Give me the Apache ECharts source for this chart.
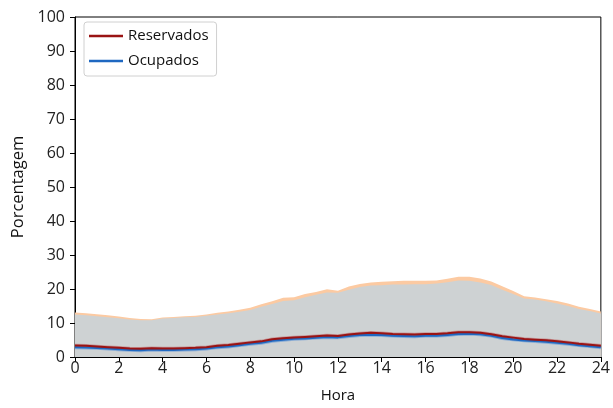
<!DOCTYPE html>
<html>
<head>
<meta charset="utf-8">
<script src="https://cdn.jsdelivr.net/npm/echarts@6/dist/echarts.min.js"></script>
<style>
html,body{margin:0;padding:0;background:#fff;}
#c{width:613px;height:408px;}
</style>
</head>
<body>
<div id="c"></div>
<script>
const hours = [0,0.5,1,1.5,2,2.5,3,3.5,4,4.5,5,5.5,6,6.5,7,7.5,8,8.5,9,9.5,10,10.5,11,11.5,12,12.5,13,13.5,14,14.5,15,15.5,16,16.5,17,17.5,18,18.5,19,19.5,20,20.5,21,21.5,22,22.5,23,23.5,24];
const grayTop = [12.5,12.3,12.0,11.7,11.4,11.0,10.8,10.8,11.3,11.5,11.7,11.8,12.1,12.5,12.9,13.3,13.8,14.8,15.6,16.5,16.7,17.6,18.3,19.0,18.9,19.8,20.6,21.0,21.1,21.3,21.3,21.4,21.4,21.6,22.0,22.5,22.4,21.9,21.2,19.8,18.5,17.2,16.9,16.4,15.7,15.0,14.1,13.5,12.8];
const peachTop = [13.1,12.9,12.6,12.3,11.9,11.5,11.2,11.1,11.6,11.8,12.0,12.1,12.5,13.0,13.4,13.9,14.5,15.5,16.4,17.4,17.6,18.5,19.1,19.9,19.5,20.7,21.5,21.9,22.1,22.3,22.4,22.4,22.4,22.5,23.0,23.6,23.6,23.1,22.2,20.8,19.4,17.9,17.5,17.0,16.5,15.7,14.8,14.1,13.4];
const reservados = [3.4,3.3,3.1,2.9,2.7,2.5,2.4,2.6,2.5,2.5,2.6,2.7,2.9,3.3,3.5,3.9,4.3,4.6,5.2,5.5,5.7,5.9,6.1,6.3,6.2,6.6,6.9,7.1,7.0,6.8,6.7,6.6,6.8,6.8,7.0,7.3,7.3,7.1,6.7,6.1,5.7,5.3,5.1,4.9,4.6,4.3,3.9,3.6,3.3];
const ocupados = [2.9,2.8,2.7,2.5,2.3,2.1,2.0,2.2,2.1,2.1,2.2,2.3,2.5,2.9,3.1,3.5,3.9,4.2,4.8,5.1,5.4,5.5,5.7,5.9,5.8,6.2,6.5,6.6,6.5,6.3,6.2,6.1,6.3,6.3,6.5,6.8,6.9,6.7,6.3,5.6,5.2,4.9,4.7,4.5,4.2,3.9,3.5,3.2,2.9];
const xTicks = {min:0, max:24, interval:2};
const yTicks = {min:0, max:100, interval:10};

const pair = (ys) => hours.map((h,i)=>[h, ys[i]]);
const FONT = 'Open Sans';
const RED = '#9a1414';
const BLUE = '#1f68c1';

const chart = echarts.init(document.getElementById('c'), null, {renderer:'canvas'});
chart.setOption({
  animation:false,
  backgroundColor:'#fff',
  textStyle:{fontFamily:FONT},
  grid:{left:75, right:9, top:17, bottom:49, show:true, borderColor:'#000', borderWidth:1},
  legend:{
    data:['Reservados','Ocupados'],
    orient:'vertical', left:84, top:22,
    backgroundColor:'#fff', borderColor:'#d0d0d0', borderWidth:1, borderRadius:3,
    padding:[5,8,6,5], itemGap:7,
    itemWidth:34, itemHeight:2.5, icon:'rect',
    textStyle:{fontFamily:FONT, fontSize:15, color:'#111', lineHeight:18}
  },
  xAxis:{
    type:'value', min:xTicks.min, max:xTicks.max, interval:xTicks.interval,
    name:'Hora', nameLocation:'middle', nameGap:31,
    nameTextStyle:{fontFamily:FONT, fontSize:15, color:'#111'},
    axisLine:{show:true, onZero:false, lineStyle:{color:'#000', width:1}},
    axisTick:{show:true, length:5, lineStyle:{color:'#000'}},
    axisLabel:{fontFamily:FONT, fontSize:16, color:'#222', margin:3},
    splitLine:{show:false}
  },
  yAxis:{
    type:'value', min:yTicks.min, max:yTicks.max, interval:yTicks.interval,
    name:'Porcentagem', nameLocation:'middle', nameGap:46,
    nameTextStyle:{fontFamily:FONT, fontSize:16.5, color:'#111'},
    axisLine:{show:true, lineStyle:{color:'#000', width:1}},
    axisTick:{show:true, length:5, lineStyle:{color:'#000'}},
    axisLabel:{fontFamily:FONT, fontSize:16, color:'#222', margin:10},
    splitLine:{show:false}
  },
  series:[
    {name:'peach', type:'line', data:pair(peachTop), showSymbol:false, symbol:'none',
     lineStyle:{width:0}, areaStyle:{color:'#fccaa2', opacity:1}, z:1, silent:true},
    {name:'gray', type:'line', data:pair(grayTop), showSymbol:false, symbol:'none',
     lineStyle:{width:0}, areaStyle:{color:'#ced2d3', opacity:1}, z:2, silent:true},
    {name:'ocBand', type:'line', data:pair(ocupados), showSymbol:false, symbol:'none',
     lineStyle:{width:4, color:'#5b93d6', opacity:0.6}, z:3, silent:true},
    {name:'reBand', type:'line', data:pair(reservados), showSymbol:false, symbol:'none',
     lineStyle:{width:3.5, color:'#c06060', opacity:0.5}, z:4, silent:true},
    {name:'Ocupados', type:'line', data:pair(ocupados), showSymbol:false, symbol:'none',
     itemStyle:{color:BLUE}, lineStyle:{width:2.2, color:BLUE}, z:5},
    {name:'Reservados', type:'line', data:pair(reservados), showSymbol:false, symbol:'none',
     itemStyle:{color:RED}, lineStyle:{width:2, color:RED}, z:6}
  ]
});
</script>
</body>
</html>
